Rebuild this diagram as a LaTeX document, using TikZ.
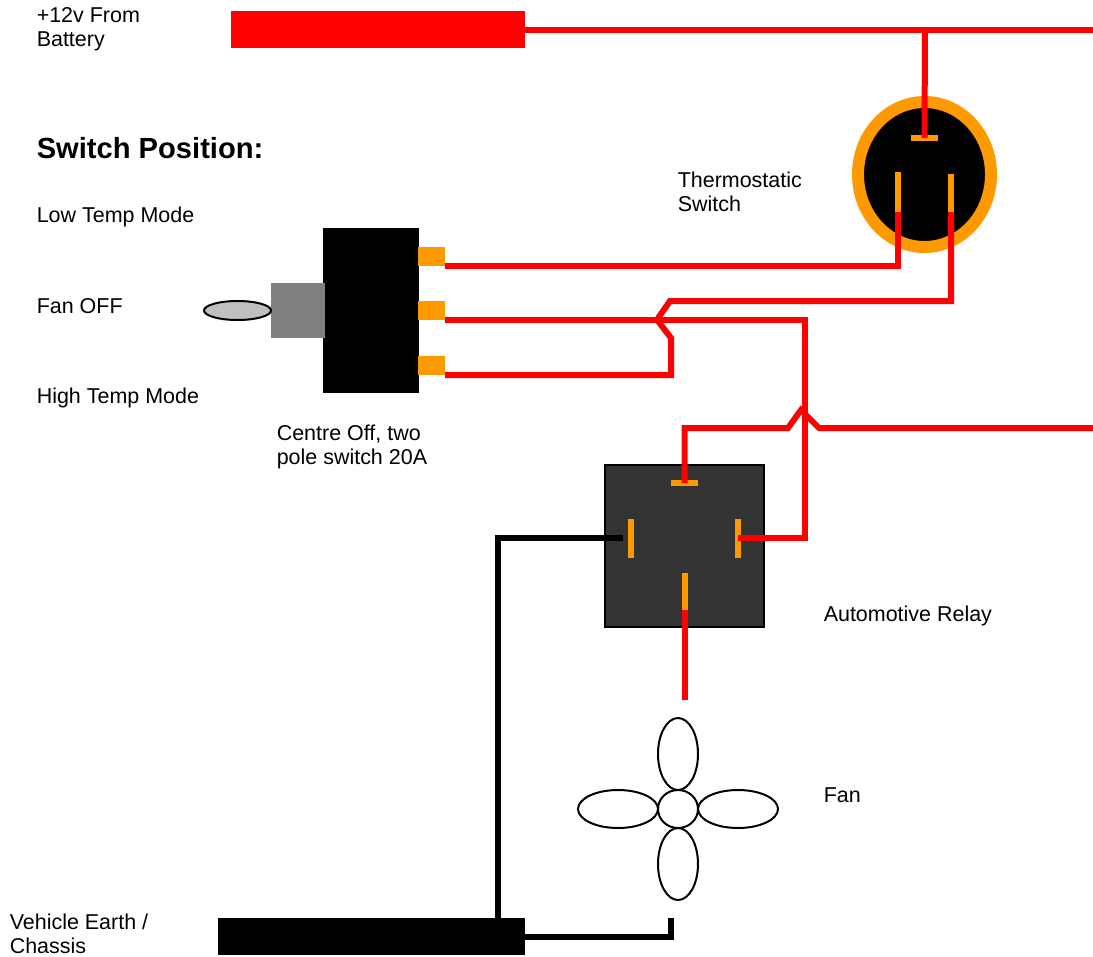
\documentclass[tikz,border=0pt]{standalone}
\usepackage{fontspec}
\setmainfont{Liberation Sans}
\definecolor{tabor}{RGB}{255,153,0}
\definecolor{relaygr}{RGB}{51,51,51}
\definecolor{togglegr}{RGB}{128,128,128}
\definecolor{leverg}{RGB}{192,192,192}
\tikzset{
  txt/.style={anchor=north west,inner sep=0.75pt,align=left,font=\fontsize{16.1}{18}\selectfont},
  headtxt/.style={anchor=north west,inner sep=0.75pt,align=left,font=\fontsize{21.85}{24}\selectfont\bfseries},
  block/.style={inner sep=0pt,outer sep=0pt,minimum width=#1},
  tab/.style={inner sep=0pt,outer sep=0pt,fill=tabor},
  redwire/.style={color=red,line width=4.5pt},
  blackwire/.style={color=black,line width=4.5pt},
  fanpart/.style={draw=black,line width=1.5pt,fill=white}
}
\begin{document}
\begin{tikzpicture}[x=0.75pt,y=0.75pt,yscale=-1,xscale=1]
            \useasboundingbox (0,0) rectangle (1093,957);
            %Shape: Bars
            \draw (378,29.5) node (batbar) [block=220.5pt,minimum height=27.75pt,fill=red] {};
            \draw (371.5,936.5) node (earthbar) [block=230.25pt,minimum height=27.75pt,fill=black] {};
            %Shape: Thermostatic switch
            \draw [color=tabor,line width=9pt,fill=black] (924.5,174.5) ellipse (66.5 and 72.5);
            \draw (924.5,138) node (thermotop) [tab,minimum width=20.25pt,minimum height=4.5pt] {};
            \draw (898,192) node (thermoleft) [tab,minimum width=4.5pt,minimum height=30pt] {};
            \draw (951,193) node (thermoright) [tab,minimum width=4.5pt,minimum height=28.5pt] {};
            %Shape: Toggle switch
            \draw (371,310.5) node (swbody) [block=72pt,minimum height=123.75pt,fill=black] {};
            \draw (298,310.5) node (swcollar) [block=40.5pt,minimum height=41.25pt,fill=togglegr] {};
            \draw [color=black,line width=1.5pt,fill=leverg] (237.5,310.5) ellipse (33.5 and 9.5);
            \draw (431.5,256.5) node (swtabhigh) [tab,minimum width=20.25pt,minimum height=14.25pt] {};
            \draw (431.5,310.5) node (swtabmid) [tab,minimum width=20.25pt,minimum height=14.25pt] {};
            \draw (431.5,365.5) node (swtablow) [tab,minimum width=20.25pt,minimum height=14.25pt] {};
            %Shape: Relay
            \draw (684.5,546) node (relay) [block=119.25pt,minimum height=121.5pt,fill=relaygr,draw=black,line width=2.1pt] {};
            \draw (684.5,483) node (relaytop) [tab,minimum width=20.25pt,minimum height=4.5pt] {};
            \draw (631,538.5) node (relayleft) [tab,minimum width=4.5pt,minimum height=29.25pt] {};
            \draw (738,538.5) node (relayright) [tab,minimum width=4.5pt,minimum height=29.25pt] {};
            \draw (685,591.5) node (relaybottom) [tab,minimum width=4.5pt,minimum height=27.75pt] {};
            %Shape: Fan
            \draw [fanpart] (678,754) ellipse (20 and 36);
            \draw [fanpart] (678,864) ellipse (20 and 36);
            \draw [fanpart] (618,809) ellipse (40 and 19);
            \draw [fanpart] (738,809) ellipse (40 and 19);
            \draw [fanpart] (678,809) ellipse (20 and 19);

            % Free wire ends
            \coordinate (feedout) at (1093,29.5);
            \coordinate (feedtap) at (925,29.5);
            \coordinate (crossA) at (670,301);
            \coordinate (crossB) at (657,319.7);
            \coordinate (crossC) at (671,338);
            \coordinate (fanout) at (1093,428);
            \coordinate (hopA) at (788,428);
            \coordinate (hopB) at (801,410);
            \coordinate (hopC) at (819,428);
            \coordinate (relayturn) at (804.5,537.5);
            \coordinate (relayred) at (738,537.5);
            \coordinate (fanin) at (685,700);
            \coordinate (relayblack) at (622.5,537.5);
            \coordinate (earthtap) at (498,918);
            \coordinate (fanearth) at (671,918);

            %Straight Lines
            \draw [redwire] (batbar.east) -- (feedout);
            \draw [redwire] (feedtap) -- (thermotop.center);
            \draw [redwire] (swtabhigh.south east) -| (thermoleft.south);
            \draw [redwire] (thermoright.south) |- (crossA) -- (crossB) -- (crossC) -- (crossC |- swtablow.south east) -- (swtablow.south east);
            \draw [redwire] (swtabmid.south east) -| (relayturn) -- (relayred);
            \draw [redwire] (relaytop.center) |- (hopA) -- (hopB) -- (hopC) -- (fanout);
            \draw [redwire] (relaybottom.south) -- (fanin);
            \draw [blackwire] (relayblack) -| (earthtap);
            \draw [blackwire] (earthbar.east) -| (fanearth);

            % Text Node
            \draw (35.5,6) node (battext) [txt] {+12v From\\Battery};
            % Text Node
            \draw (35.5,136) node (headtext) [headtxt] {Switch Position:};
            % Text Node
            \draw (35.5,206) node (lowtext) [txt] {Low Temp Mode};
            % Text Node
            \draw (35.5,297) node (offtext) [txt] {Fan OFF};
            % Text Node
            \draw (35.5,387) node (hightext) [txt] {High Temp Mode};
            % Text Node
            \draw (275.5,424) node (swtext) [txt] {Centre Off, two\\pole switch 20A};
            % Text Node
            \draw (676.5,171) node (thermotext) [txt] {Thermostatic\\Switch};
            % Text Node
            \draw (822.5,605) node (relaytext) [txt] {Automotive Relay};
            % Text Node
            \draw (822.5,786) node (fantext) [txt] {Fan};
            % Text Node
            \draw (8.5,913) node (earthtext) [txt] {Vehicle Earth /\\Chassis};
\end{tikzpicture}
\end{document}
